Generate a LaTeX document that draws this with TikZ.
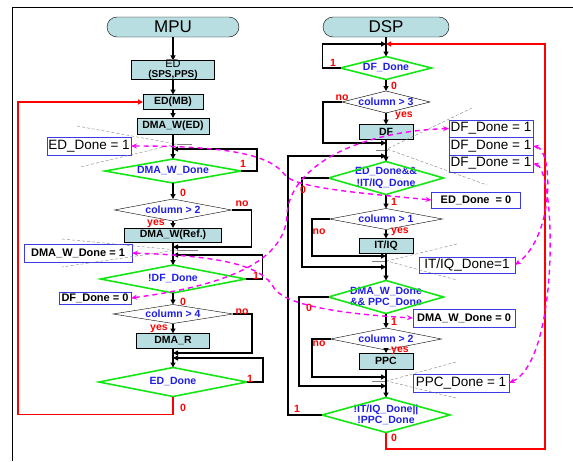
\documentclass[tikz,border=0pt]{standalone}
\usepackage{fontspec}
\setmainfont{Liberation Sans}
\usetikzlibrary{arrows.meta}
\definecolor{boxfill}{RGB}{184,222,226}
\definecolor{condgreen}{RGB}{20,230,20}
\definecolor{txtblue}{RGB}{30,30,230}
\definecolor{flagblue}{RGB}{60,60,230}
\definecolor{sigpink}{RGB}{255,0,255}
\newcommand{\bsz}{\bfseries\fontsize{10.5}{11.5}\selectfont}
\newcommand{\fsz}{\bfseries\fontsize{11}{12}\selectfont}
\newcommand{\nsz}{\fontsize{13.5}{15}\selectfont}
\begin{document}
\begin{tikzpicture}[x=1pt,y=-1pt,
  every node/.style={inner sep=0pt,outer sep=0pt,font=\bsz},
  term/.style={draw,thin,fill=boxfill,rounded corners=10pt,minimum width=132pt,minimum height=20pt,font=\fontsize{17}{17}\selectfont},
  proc/.style={draw,thin,fill=boxfill,minimum height=15pt},
  cond/.style={text=txtblue,align=center},
  flag/.style={draw=flagblue,thin,minimum height=17.5pt,font=\fsz},
  lbl/.style={text=red,font=\bsz},
  flow/.style={line width=1.5pt,-{Triangle[length=5pt,width=5pt]}},
  back/.style={red,line width=1.5pt,-{Triangle[length=5pt,width=5pt]}},
  sig/.style={sigpink,line width=1.4pt,dash pattern=on 5pt off 4pt,{Stealth[length=6pt,width=5pt]}-{Stealth[length=6pt,width=5pt]}},
  wedge/.style={gray,thin,dash pattern=on 3pt off 2pt},
  gline/.style={condgreen,line width=1.6pt},
  tline/.style={black,thin}]
\useasboundingbox (0,0) rectangle (573,461);
\draw[thin] (12,461) -- (12,7) -- (573,7);

% MPU
\node[term] (mpu) at (173,27) {MPU};
\node[proc,minimum width=83pt,minimum height=19pt,align=center,font=\bfseries\fontsize{10}{9.5}\selectfont] (eds) at (173,70) {{\mdseries\fontsize{11}{9.5}\selectfont ED}\\(SPS,PPS)};
\node[proc,minimum width=60pt] (edmb) at (173,102) {ED(MB)};
\node[proc,minimum width=72pt,minimum height=16pt] (edw) at (173,126) {DMA\_W(ED)};
\node[cond,minimum width=136pt,minimum height=24pt] (dwd) at (173,171) {DMA\_W\_Done};
\node[cond,minimum width=117pt,minimum height=22pt] (cA) at (173,210) {column > 2};
\node[proc,minimum width=97pt,minimum height=14pt] (dwr) at (173,235) {DMA\_W(Ref.)};
\node[cond,minimum width=145pt,minimum height=28pt] (ndf) at (173,279) {!DF\_Done};
\node[cond,minimum width=120pt,minimum height=19pt] (cB) at (173,314) {column > 4};
\node[proc,minimum width=73pt] (dmar) at (173,341) {DMA\_R};
\node[cond,minimum width=148pt,minimum height=29pt] (edd) at (173,382) {ED\_Done};

\coordinate (jA) at (173,149);
\coordinate (jB) at (173,247);
\coordinate (jC) at (173,255);
\coordinate (jD) at (173,353);
\coordinate (jE) at (173,358);

% DSP
\node[term,minimum width=126pt] (dsp) at (386,27) {DSP};
\node[cond,minimum width=91pt,minimum height=23pt] (dfd) at (386,68) {DF\_Done};
\node[cond,minimum width=88pt,minimum height=22pt] (cC) at (386,102) {column > 3};
\node[proc,minimum width=54pt] (df) at (386,132) {DF};
\node[cond,minimum width=115pt,minimum height=33pt] (ediq) at (386,178) {ED\_Done\&\&\\!IT/IQ\_Done};
\node[cond,minimum width=113pt,minimum height=21pt] (cD) at (386,219) {column > 1};
\node[proc,minimum width=54pt] (itiq) at (386,246) {IT/IQ};
\node[cond,minimum width=115pt,minimum height=33pt] (dwpp) at (386,297) {DMA\_W\_Done\\\&\& PPC\_Done};
\node[cond,minimum width=111pt,minimum height=22pt] (cE) at (386,339) {column > 2};
\node[proc,minimum width=54pt,minimum height=16pt] (ppc) at (386,361) {PPC};
\node[cond,minimum width=128pt,minimum height=35pt] (fin) at (386,415) {!IT/IQ\_Done||\\!PPC\_Done};

\coordinate (kA) at (386,44);
\coordinate (kB) at (386,143);
\coordinate (kC) at (386,156);
\coordinate (kD) at (386,256);
\coordinate (kE) at (386,267);
\coordinate (kF) at (386,377);
\coordinate (kG) at (386,386);

\foreach \n in {dwd,ndf,edd,dfd,ediq,dwpp,fin}{ \draw[gline] (\n.north) -- (\n.east) -- (\n.south) -- (\n.west) -- cycle; }
\foreach \n in {cA,cB,cC,cD,cE}{ \draw[tline] (\n.north) -- (\n.east) -- (\n.south) -- (\n.west) -- cycle; }

% flags
\node[flag,font=\nsz,minimum width=84pt,minimum height=18pt] (edo) at (89,146) {ED\_Done = 1};
\node[flag,minimum width=108pt,minimum height=18pt] (dwo) at (78,253) {DMA\_W\_Done = 1};
\node[flag,minimum width=72pt,minimum height=12pt] (dfz) at (95,298) {DF\_Done = 0};
\node[flag,font=\nsz,minimum width=84pt] (dfo1) at (491,128.5) {DF\_Done = 1};
\node[flag,font=\nsz,minimum width=84pt] (dfo2) at (491,146) {DF\_Done = 1};
\node[flag,font=\nsz,minimum width=84pt] (dfo3) at (491,163.5) {DF\_Done = 1};
\node[flag,minimum width=89pt,minimum height=16pt] (edz) at (476,200) {ED\_Done\ \ = 0};
\node[flag,font=\nsz,minimum width=96pt,minimum height=16pt] (itq) at (467,265) {IT/IQ\_Done=1};
\node[flag,minimum width=102pt,minimum height=18pt] (dwz) at (464,318) {DMA\_W\_Done = 0};
\node[flag,font=\nsz,minimum width=96pt,minimum height=18pt] (ppcd) at (461,383) {PPC\_Done = 1};

\draw[wedge] (77,126) -- (176,144) -- (80,167);
\draw[wedge] (62,239) -- (177,250) -- (62,267);
\draw[wedge] (472,108) -- (387,149) -- (487,185);
\draw[wedge] (457,244) -- (387,261) -- (457,280);
\draw[wedge] (456,362) -- (387,381) -- (456,398);
\draw[gray] (177,144) -- (192,144);
\draw[gray] (177,250) -- (198,250);
\draw[gray] (376,150) -- (388,150);
\draw[gray] (372,261) -- (387,261);
\draw[gray] (372,381) -- (387,381);

\draw[flow] (mpu.south) -- (eds.north);
\draw[flow] (eds.south) -- (edmb.north);
\draw[flow] (edmb.south) -- (edw.north);
\draw[flow] (edw.south) -- (dwd.north);
\draw[flow] (dwd.east) -- ++(16,0) |- (jA);
\draw[flow] (dwd.south) -- (cA.north);
\draw[flow] (cA.south) -- (dwr.north);
\draw[flow] (cA.east) -- ++(20,0) |- (jB);
\draw[flow] (dwr.south) -- (ndf.north);
\draw[flow] (ndf.east) -- ++(17,0) |- (jC);
\draw[flow] (ndf.south) -- (cB.north);
\draw[flow] (cB.east) -- ++(19,0) |- (jD);
\draw[flow] (cB.south) -- (dmar.north);
\draw[flow] (dmar.south) -- (edd.north);
\draw[flow] (edd.east) -- ++(16,0) |- (jE);
\draw[back] (edd.south) -- ++(0,18) -| (18,102) -- (edmb.west);

\draw[flow] (dsp.south) -- (dfd.north);
\draw[flow] (dfd.west) -- ++(-18,0) |- (kA);
\draw[flow] (dfd.south) -- (cC.north);
\draw[flow] (cC.west) -- ++(-19,0) |- (kB);
\draw[flow] (cC.south) -- (df.north);
\draw[flow] (df.south) -- (ediq.north);
\draw[flow] (ediq.west) -- ++(-26.5,0) |- (kE);
\draw[flow] (ediq.south) -- (cD.north);
\draw[flow] (cD.west) -- ++(-17.5,0) |- (kD);
\draw[flow] (cD.south) -- (itiq.north);
\draw[flow] (itiq.south) -- (dwpp.north);
\draw[flow] (dwpp.west) -- ++(-29.5,0) |- (kG);
\draw[flow] (dwpp.south) -- (cE.north);
\draw[flow] (cE.west) -- ++(-18.5,0) |- (kF);
\draw[flow] (cE.south) -- (ppc.north);
\draw[flow] (ppc.south) -- (fin.north);
\draw[flow] (fin.west) -- ++(-34,0) |- (kC);
\draw[back] (fin.south) -- ++(0,16.5) -| (545,44) -- (kA);

\node[lbl] (lA1) at (243,164) {1};
\node[lbl] (lA0) at (183,193) {0};
\node[lbl] (lAn) at (242,204) {no};
\node[lbl] (lAy) at (156,224) {yes};
\node[lbl] (lB1) at (256,276) {1};
\node[lbl] (lB0) at (183,302) {0};
\node[lbl] (lBn) at (242,312) {no};
\node[lbl] (lBy) at (159,329) {yes};
\node[lbl] (lC1) at (250,379) {1};
\node[lbl] (lC0) at (183,408) {0};
\node[lbl] (lD1) at (333,63) {1};
\node[lbl] (lD0) at (394,86) {0};
\node[lbl] (lDn) at (342,98) {no};
\node[lbl] (lDy) at (404,116) {yes};
\node[lbl] (lE0) at (303,190) {0};
\node[lbl] (lE1) at (394,202) {1};
\node[lbl] (lEn) at (319,232) {no};
\node[lbl] (lEy) at (400,232) {yes};
\node[lbl] (lF0) at (309,308) {0};
\node[lbl] (lF1) at (394,322) {1};
\node[lbl] (lFn) at (319,344) {no};
\node[lbl] (lFy) at (400,351) {yes};
\node[lbl] (lG1) at (297,409) {1};
\node[lbl] (lG0) at (394,438) {0};

\draw[sig] (edo.east) .. controls (230,146) and (270,155) .. (285,175) .. controls (295,188) and (360,193) .. (edz.west);
\draw[sig] (dwo.east) .. controls (220,256) and (262,265) .. (274,288) .. controls (285,305) and (340,314) .. (dwz.west);
\draw[sig] (dfz.east) .. controls (230,285) and (285,260) .. (287,215) .. controls (289,170) and (350,132) .. (dfo1.west);
\draw[sig] (dfo2.east) .. controls (553,150) and (555,235) .. (itq.east);
\draw[sig] (dfo3.east) .. controls (556,170) and (560,360) .. (ppcd.east);
\end{tikzpicture}
\end{document}
